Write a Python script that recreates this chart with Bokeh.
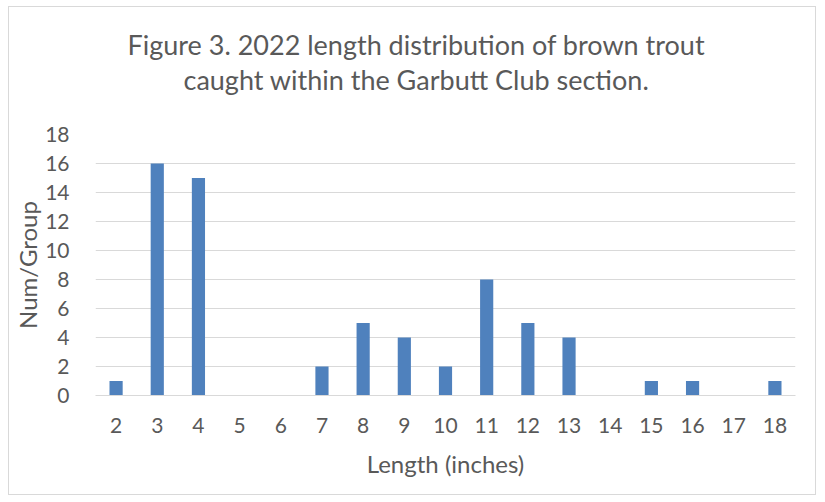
from bokeh.plotting import figure
from bokeh.models import Title, FixedTicker, Range1d
from bokeh.embed import file_html
from bokeh.resources import INLINE

lengths = ["2", "3", "4", "5", "6", "7", "8", "9", "10", "11", "12", "13", "14", "15", "16", "17", "18"]
counts = [1, 16, 15, 0, 0, 2, 5, 4, 2, 8, 5, 4, 0, 1, 1, 0, 1]
y_ticks = [0, 2, 4, 6, 8, 10, 12, 14, 16, 18]
title_lines = ["Figure 3. 2022 length distribution of brown trout",
               "caught within the Garbutt Club section."]
x_title = "Length (inches)"
y_title = "Num/Group"

FONT = "Lato"
TXT = "#595959"
GRID = "#d9d9d9"

p = figure(x_range=lengths, y_range=Range1d(0, 18), width=808, height=489,
           output_backend="svg", toolbar_location=None,
           min_border_left=86, min_border_right=22, min_border_top=127, min_border_bottom=101)
p.vbar(x=lengths, top=counts, width=0.32, color="#4F81BD", line_color=None)

p.outline_line_color = None
p.border_fill_color = "white"
p.background_fill_color = "white"

p.xgrid.grid_line_color = None
p.ygrid.grid_line_color = GRID
p.ygrid.grid_line_width = 1

p.yaxis.ticker = FixedTicker(ticks=y_ticks)
for ax in (p.xaxis, p.yaxis):
    ax.major_tick_line_color = None
    ax.minor_tick_line_color = None
    ax.major_label_text_font = FONT
    ax.major_label_text_font_size = "21px"
    ax.major_label_text_color = TXT
    ax.axis_label_text_font = FONT
    ax.axis_label_text_font_size = "24px"
    ax.axis_label_text_color = TXT
    ax.axis_label_text_font_style = "normal"
p.yaxis.axis_line_color = None
p.xaxis.axis_line_color = GRID
p.xaxis.major_label_standoff = 16
p.yaxis.major_label_standoff = 20
p.xaxis.axis_label = x_title
p.yaxis.axis_label = y_title
p.xaxis.axis_label_standoff = 13
p.yaxis.axis_label_standoff = 0

# spacer between the frame and the title lines
p.add_layout(Title(text=" ", text_font_size="22px", text_font=FONT), "above")
offsets = [32, 88]
for line, off in reversed(list(zip(title_lines, offsets))):
    p.add_layout(Title(text=line, align="left", offset=off, standoff=0, text_font=FONT,
                       text_font_size="27px", text_font_style="normal",
                       text_color=TXT), "above")

p.styles = {"border": "1px solid #d9d9d9", "margin": "6px 0 0 8px"}

open("out.html", "w").write(file_html(p, INLINE))
